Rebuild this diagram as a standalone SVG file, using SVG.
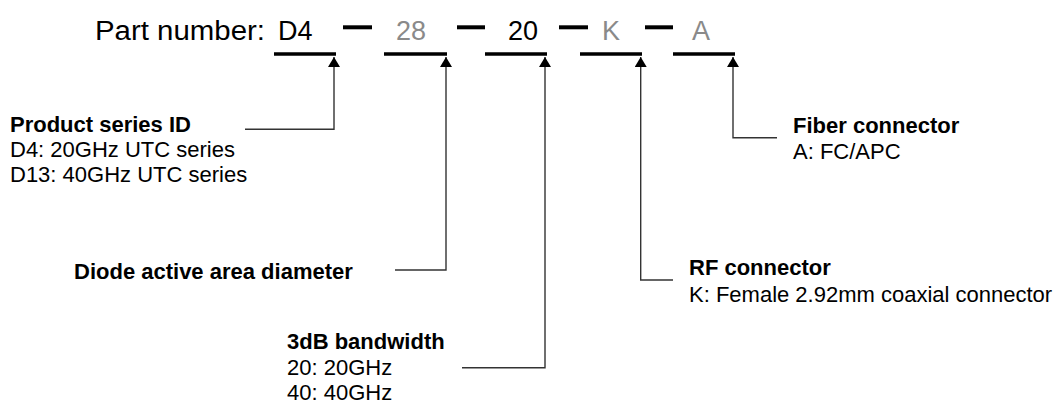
<svg xmlns="http://www.w3.org/2000/svg" width="1058" height="403" viewBox="0 0 1058 403">
<style>
text{font-family:"Liberation Sans",Arial,sans-serif;fill:#000}
.pn{font-size:27px}
.gr{fill:#8a8a8a}
.lbl{font-size:22px}
.b{font-weight:bold}
.bar{stroke:#000;stroke-width:3.5;fill:none}
.dash{stroke:#000;stroke-width:4;fill:none}
.con{stroke:#333;stroke-width:1.4;fill:none;marker-end:url(#arr)}
</style>
<defs>
<marker id="arr" viewBox="0 0 10 12" refX="10" refY="6" markerWidth="10" markerHeight="12" markerUnits="userSpaceOnUse" orient="auto" preserveAspectRatio="none">
<path d="M0,0 L10,6 L0,12 z" fill="#000"/>
</marker>
</defs>
<rect width="1058" height="403" fill="#fff"/>
<g id="part-number">
<text class="pn" x="95" y="39.5" textLength="170" lengthAdjust="spacingAndGlyphs">Part number:</text>
<text class="pn" x="278" y="39.5">D4</text>
<text class="pn gr" x="396" y="39.5">28</text>
<text class="pn" x="508" y="39.5">20</text>
<text class="pn gr" x="602" y="39.5">K</text>
<text class="pn gr" x="692" y="39.5">A</text>
<line class="dash" x1="343" y1="27.3" x2="372" y2="27.3"/>
<line class="dash" x1="457" y1="27.3" x2="485" y2="27.3"/>
<line class="dash" x1="559" y1="27.3" x2="588" y2="27.3"/>
<line class="dash" x1="645" y1="27.3" x2="673" y2="27.3"/>
<line class="bar" x1="274" y1="54" x2="336" y2="54"/>
<line class="bar" x1="384" y1="54" x2="447" y2="54"/>
<line class="bar" x1="485" y1="54" x2="547" y2="54"/>
<line class="bar" x1="580" y1="54" x2="642" y2="54"/>
<line class="bar" x1="673" y1="54" x2="735" y2="54"/>
</g>
<g id="connectors">
<polyline class="con" points="245,129.3 334,129.3 334,57"/>
<polyline class="con" points="395,270 446,270 446,57"/>
<polyline class="con" points="462,367.7 545,367.7 545,57"/>
<polyline class="con" points="673,280 640.7,280 640.7,57"/>
<polyline class="con" points="777,137.7 733,137.7 733,57"/>
</g>
<g id="product-series">
<text class="lbl b" x="10" y="131.7">Product series ID</text>
<text class="lbl" x="10" y="156.7">D4: 20GHz UTC series</text>
<text class="lbl" x="10" y="181.7">D13: 40GHz UTC series</text>
</g>
<g id="diode-area">
<text class="lbl b" x="74" y="279.3">Diode active area diameter</text>
</g>
<g id="bandwidth">
<text class="lbl b" x="287" y="349.3">3dB bandwidth</text>
<text class="lbl" x="287" y="375">20: 20GHz</text>
<text class="lbl" x="287" y="400">40: 40GHz</text>
</g>
<g id="rf-connector">
<text class="lbl b" x="689" y="275">RF connector</text>
<text class="lbl" x="689" y="301.7">K: Female 2.92mm coaxial connector</text>
</g>
<g id="fiber-connector">
<text class="lbl b" x="793" y="132.7">Fiber connector</text>
<text class="lbl" x="793" y="159">A: FC/APC</text>
</g>
</svg>
